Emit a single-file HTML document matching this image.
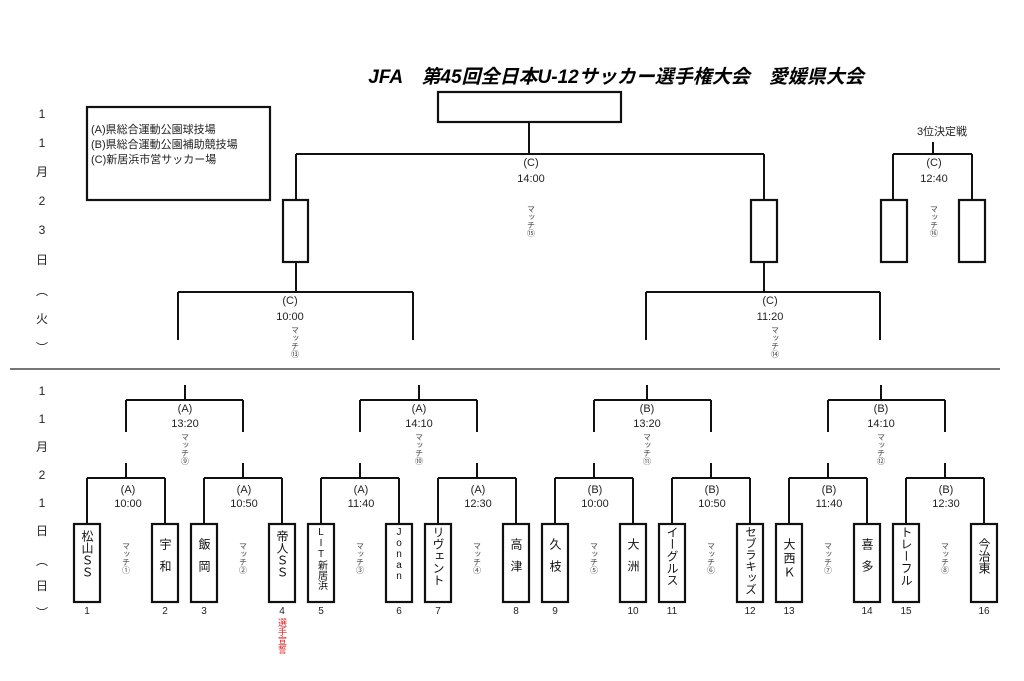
<!DOCTYPE html>
<html><head><meta charset="utf-8"><style>
html,body{margin:0;padding:0;background:#fff;}
svg{display:block;font-family:"Liberation Sans","Noto Sans CJK JP",sans-serif;}
.v{writing-mode:vertical-rl;text-orientation:upright;}
.l{fill:none;stroke:#111;stroke-width:2;}
.b{fill:#fff;stroke:#111;stroke-width:2.2;}
</style></head><body>
<svg width="1024" height="681" viewBox="0 0 1024 681">
<text x="616" y="83" text-anchor="middle" font-size="19" font-weight="bold" font-style="italic">JFA　第45回全日本U-12サッカー選手権大会　愛媛県大会</text>
<rect x="87" y="107" width="183" height="93" class="b" stroke-width="1.6"/>
<g font-size="11" fill="#222"><text x="91" y="133">(A)県総合運動公園球技場</text><text x="91" y="148">(B)県総合運動公園補助競技場</text><text x="91" y="163">(C)新居浜市営サッカー場</text></g>
<g font-size="12" text-anchor="middle" fill="#222">
<text x="42" y="118">1</text><text x="42" y="147">1</text><text x="42" y="176">月</text><text x="42" y="205">2</text><text x="42" y="234">3</text><text x="42" y="264">日</text><text x="42" y="295">︵</text><text x="42" y="323">火</text><text x="42" y="352">︶</text>
<text x="42" y="395">1</text><text x="42" y="423">1</text><text x="42" y="451">月</text><text x="42" y="479">2</text><text x="42" y="507">1</text><text x="42" y="535">日</text><text x="42" y="565">︵</text><text x="42" y="590">日</text><text x="42" y="617">︶</text>
</g>
<rect x="438" y="92" width="183" height="30" class="b"/>
<path class="l" d="M529 122V154M296 154H764M296 154V200M764 154V200"/>
<rect x="283" y="200" width="25" height="62" class="b"/>
<rect x="751" y="200" width="26" height="62" class="b"/>
<path class="l" d="M296 262V292M178 292H413M178 292V340M413 292V340M764 262V292M646 292H880M646 292V340M880 292V340"/>
<g font-size="11" text-anchor="middle" fill="#222">
<text x="531" y="166">(C)</text><text x="531" y="182">14:00</text>
<text x="290" y="304">(C)</text><text x="290" y="320">10:00</text>
<text x="770" y="304">(C)</text><text x="770" y="320">11:20</text>
<text x="942" y="135">3位決定戦</text>
<text x="934" y="166">(C)</text><text x="934" y="182">12:40</text>
</g>
<path class="l" d="M933 142V154M893 154H972M893 154V200M972 154V200"/>
<rect x="881" y="200" width="26" height="62" class="b"/>
<rect x="959" y="200" width="26" height="62" class="b"/>
<g font-size="8" fill="#444" class="v">
<text x="531" y="205">マッチ⑮</text><text x="934" y="205">マッチ⑯</text>
<text x="295" y="326">マッチ⑬</text><text x="775" y="326">マッチ⑭</text>
</g>
<line x1="10" y1="369" x2="1000" y2="369" stroke="#777" stroke-width="2"/>
<path class="l" d="
M185 385V400M126 400H243M126 400V432M243 400V432
M126 463V478M87 478H165M87 478V524M165 478V524
M243 463V478M204 478H282M204 478V524M282 478V524
M419 385V400M360 400H477M360 400V432M477 400V432
M360 463V478M321 478H399M321 478V524M399 478V524
M477 463V478M438 478H516M438 478V524M516 478V524
M647 385V400M594 400H711M594 400V432M711 400V432
M594 463V478M555 478H633M555 478V524M633 478V524
M711 463V478M672 478H750M672 478V524M750 478V524
M881 385V400M828 400H945M828 400V432M945 400V432
M828 463V478M789 478H867M789 478V524M867 478V524
M945 463V478M906 478H984M906 478V524M984 478V524"/>
<g class="b">
<rect x="74" y="524" width="26" height="78"/><rect x="152" y="524" width="26" height="78"/>
<rect x="191" y="524" width="26" height="78"/><rect x="269" y="524" width="26" height="78"/>
<rect x="308" y="524" width="26" height="78"/><rect x="386" y="524" width="26" height="78"/>
<rect x="425" y="524" width="26" height="78"/><rect x="503" y="524" width="26" height="78"/>
<rect x="542" y="524" width="26" height="78"/><rect x="620" y="524" width="26" height="78"/>
<rect x="659" y="524" width="26" height="78"/><rect x="737" y="524" width="26" height="78"/>
<rect x="776" y="524" width="26" height="78"/><rect x="854" y="524" width="26" height="78"/>
<rect x="893" y="524" width="26" height="78"/><rect x="971" y="524" width="26" height="78"/>
</g>
<g font-size="11" text-anchor="middle" fill="#222">
<text x="185" y="412">(A)</text><text x="185" y="427">13:20</text>
<text x="419" y="412">(A)</text><text x="419" y="427">14:10</text>
<text x="647" y="412">(B)</text><text x="647" y="427">13:20</text>
<text x="881" y="412">(B)</text><text x="881" y="427">14:10</text>
<text x="128" y="493">(A)</text><text x="128" y="507">10:00</text>
<text x="244" y="493">(A)</text><text x="244" y="507">10:50</text>
<text x="361" y="493">(A)</text><text x="361" y="507">11:40</text>
<text x="478" y="493">(A)</text><text x="478" y="507">12:30</text>
<text x="595" y="493">(B)</text><text x="595" y="507">10:00</text>
<text x="712" y="493">(B)</text><text x="712" y="507">10:50</text>
<text x="829" y="493">(B)</text><text x="829" y="507">11:40</text>
<text x="946" y="493">(B)</text><text x="946" y="507">12:30</text>
</g>
<g font-size="8" fill="#444" class="v">
<text x="185" y="433">マッチ⑨</text><text x="419" y="433">マッチ⑩</text><text x="647" y="433">マッチ⑪</text><text x="881" y="433">マッチ⑫</text>
<text x="126" y="542">マッチ①</text><text x="243" y="542">マッチ②</text><text x="360" y="542">マッチ③</text><text x="477" y="542">マッチ④</text>
<text x="594" y="542">マッチ⑤</text><text x="711" y="542">マッチ⑥</text><text x="828" y="542">マッチ⑦</text><text x="945" y="542">マッチ⑧</text>
</g>
<g font-size="12" fill="#111" class="v">
<text x="87" y="530">松山ＳＳ</text>
<text x="165" y="538" letter-spacing="10">宇和</text>
<text x="204" y="538" letter-spacing="10">飯岡</text>
<text x="282" y="530">帝人ＳＳ</text>
<text x="321" y="527" font-size="10">LIT新居浜</text>
<text x="399" y="527" font-size="10">Jonan</text>
<text x="438" y="526">リヴェント</text>
<text x="516" y="538" letter-spacing="10">高津</text>
<text x="555" y="538" letter-spacing="10">久枝</text>
<text x="633" y="538" letter-spacing="10">大洲</text>
<text x="672" y="526">イーグルス</text>
<text x="750" y="526" font-size="11.5">セブラキッズ</text>
<text x="789" y="538" letter-spacing="2">大西Ｋ</text>
<text x="867" y="538" letter-spacing="10">喜多</text>
<text x="906" y="526">トレーフル</text>
<text x="984" y="538">今治東</text>
</g>
<g font-size="10" text-anchor="middle" fill="#222">
<text x="87" y="614">1</text><text x="165" y="614">2</text><text x="204" y="614">3</text><text x="282" y="614">4</text>
<text x="321" y="614">5</text><text x="399" y="614">6</text><text x="438" y="614">7</text><text x="516" y="614">8</text>
<text x="555" y="614">9</text><text x="633" y="614">10</text><text x="672" y="614">11</text><text x="750" y="614">12</text>
<text x="789" y="614">13</text><text x="867" y="614">14</text><text x="906" y="614">15</text><text x="984" y="614">16</text>
</g>
<text x="282" y="618" font-size="9" fill="#e02020" class="v">選手宣誓</text>
</svg>
</body></html>
